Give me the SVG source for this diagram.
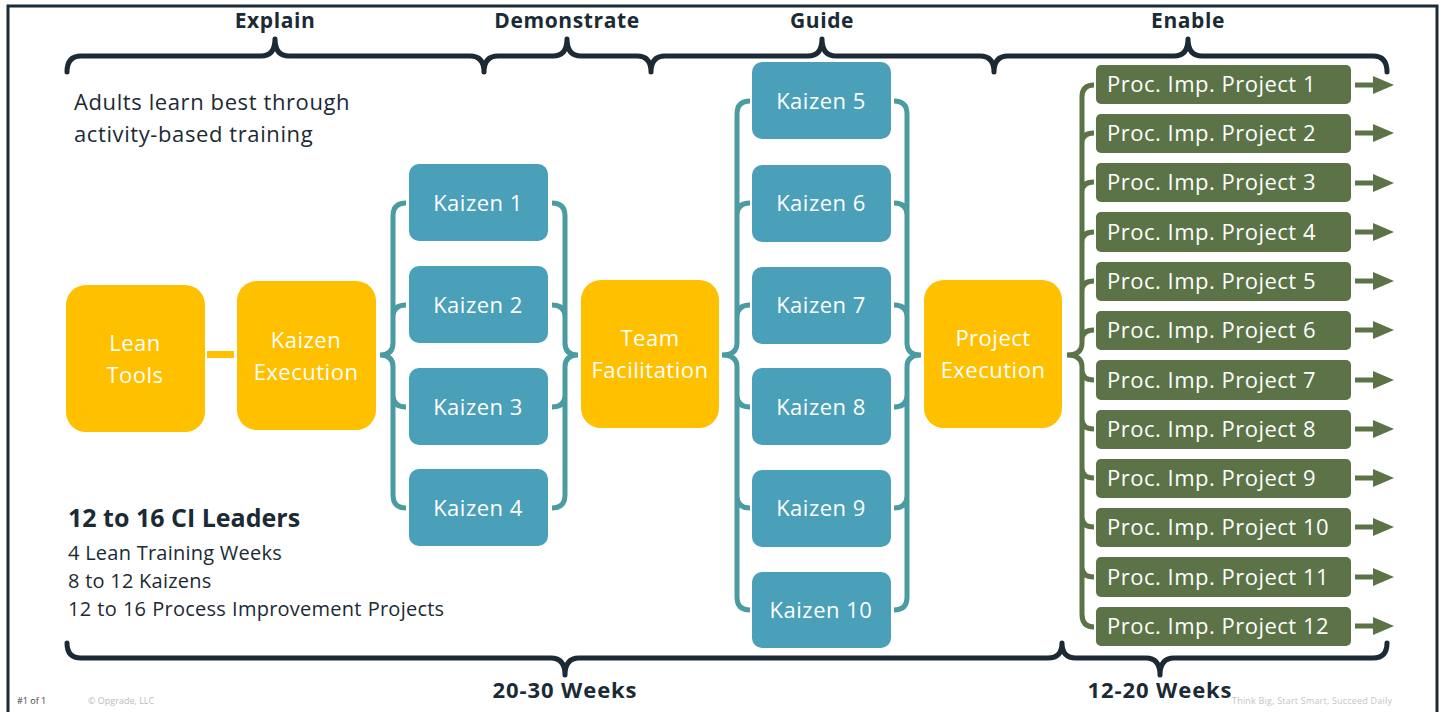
<svg xmlns="http://www.w3.org/2000/svg" width="1443" height="712" viewBox="0 0 1443 712">
<style>
  .frame{fill:none;stroke:#1d2b36;stroke-width:3}
  .brace{fill:none;stroke:#1b2a35;stroke-width:5;stroke-linecap:round;stroke-linejoin:round}
  .tbrace{fill:none;stroke:#4b9ba2;stroke-width:5;stroke-linecap:butt}
  .gbrace{fill:none;stroke:#5b7347;stroke-width:5;stroke-linecap:butt}
  .arrow{fill:none;stroke:#5b7347;stroke-width:5}
  .yel{fill:#ffc000}
  .teal{fill:#4a9fb9}
  .grn{fill:#5b7347}
  .lbl{font-family:"Open Sans","Liberation Sans",sans-serif;font-size:22px;letter-spacing:0.5px;fill:#ffffff;text-anchor:middle}
  .plbl{font-family:"Open Sans","Liberation Sans",sans-serif;font-size:22px;letter-spacing:0.5px;fill:#ffffff}
  .head{font-family:"Open Sans","Liberation Sans",sans-serif;font-size:21px;letter-spacing:0.6px;font-weight:bold;fill:#1b2a35;text-anchor:middle}
  .bhead{font-family:"Open Sans","Liberation Sans",sans-serif;font-size:22px;letter-spacing:0.9px;font-weight:bold;fill:#1b2a35;text-anchor:middle}
  .body{font-family:"Open Sans","Liberation Sans",sans-serif;fill:#1b2a35}
  .foot{font-family:"Open Sans","Liberation Sans",sans-serif;font-size:9px}
</style>
<defs>
  <marker id="ah" markerUnits="userSpaceOnUse" markerWidth="21" markerHeight="18" refX="0" refY="9" orient="auto">
    <path d="M0,0 L21,9 L0,18 z" fill="#5b7347"/>
  </marker>
</defs>
<rect width="1443" height="712" fill="#ffffff"/>
<path class="frame" d="M8,712 L8,6 L1437,6 L1437,712"/>

<g id="connectors">
  <path class="brace" d="M67,72 Q67,56 81,56 L261,56 Q275,56 275,39 Q275,56 289,56 L470,56 Q484,56 484,72 Q484,56 498,56 L553,56 Q567,56 567,39 Q567,56 581,56 L637,56 Q651,56 651,72 Q651,56 665,56 L808,56 Q822,56 822,39 Q822,56 836,56 L980,56 Q994,56 994,72 Q994,56 1008,56 L1174,56 Q1188,56 1188,39 Q1188,56 1202,56 L1373,56 Q1387,56 1387,72"/>
  <path class="brace" d="M67,643 Q67,658 81,658 L551,658 Q565,658 565,675 Q565,658 579,658 L1048,658 Q1062,658 1062,643 Q1062,658 1076,658 L1146,658 Q1160,658 1160,675 Q1160,658 1174,658 L1373,658 Q1387,658 1387,643"/>
  <rect class="yel" x="207" y="351" width="27" height="7"/>
  <path class="tbrace" d="M406,203 Q393,203 393,216 L393,343 Q393,355 380,355 Q393,355 393,367 L393,495 Q393,508 406,508 M393,317 Q393,305 406,305 M393,395 Q393,407 406,407"/>
  <path class="tbrace" d="M552,203 Q565,203 565,216 L565,343 Q565,355 578,355 Q565,355 565,367 L565,495 Q565,508 552,508 M565,317 Q565,305 552,305 M565,395 Q565,407 552,407"/>
  <path class="tbrace" d="M750,101 Q737,101 737,114 L737,343 Q737,355 722,355 Q737,355 737,367 L737,597 Q737,610 750,610 M737,215 Q737,203 750,203 M737,317 Q737,305 750,305 M737,395 Q737,407 750,407 M737,496 Q737,508 750,508"/>
  <path class="tbrace" d="M894,101 Q907,101 907,114 L907,343 Q907,355 921,355 Q907,355 907,367 L907,597 Q907,610 894,610 M907,215 Q907,203 894,203 M907,317 Q907,305 894,305 M907,395 Q907,407 894,407 M907,496 Q907,508 894,508"/>
  <path class="gbrace" d="M1094,85 Q1082,85 1082,97 L1082,343 Q1082,355 1067,355 Q1082,355 1082,367 L1082,614 Q1082,627 1094,627 M1082,143 Q1082,133 1094,133 M1082,192 Q1082,182 1094,182 M1082,242 Q1082,232 1094,232 M1082,291 Q1082,281 1094,281 M1082,340 Q1082,330 1094,330 M1082,370 Q1082,380 1094,380 M1082,419 Q1082,429 1094,429 M1082,468 Q1082,478 1094,478 M1082,517 Q1082,527 1094,527 M1082,567 Q1082,577 1094,577"/>
  <path class="arrow" marker-end="url(#ah)" d="M1355,85 L1373,85"/>
  <path class="arrow" marker-end="url(#ah)" d="M1355,133 L1373,133"/>
  <path class="arrow" marker-end="url(#ah)" d="M1355,183 L1373,183"/>
  <path class="arrow" marker-end="url(#ah)" d="M1355,232 L1373,232"/>
  <path class="arrow" marker-end="url(#ah)" d="M1355,281 L1373,281"/>
  <path class="arrow" marker-end="url(#ah)" d="M1355,330 L1373,330"/>
  <path class="arrow" marker-end="url(#ah)" d="M1355,380 L1373,380"/>
  <path class="arrow" marker-end="url(#ah)" d="M1355,429 L1373,429"/>
  <path class="arrow" marker-end="url(#ah)" d="M1355,478 L1373,478"/>
  <path class="arrow" marker-end="url(#ah)" d="M1355,527 L1373,527"/>
  <path class="arrow" marker-end="url(#ah)" d="M1355,577 L1373,577"/>
  <path class="arrow" marker-end="url(#ah)" d="M1355,626 L1373,626"/>
</g>

<g id="labels">
  <text class="head" x="275" y="28">Explain</text>
  <text class="head" x="567" y="28">Demonstrate</text>
  <text class="head" x="822" y="28">Guide</text>
  <text class="head" x="1188" y="28">Enable</text>
  <text class="bhead" x="565" y="698">20-30 Weeks</text>
  <text class="bhead" x="1160" y="698">12-20 Weeks</text>
  <text class="body" x="74" y="110" font-size="22" letter-spacing="0.6">Adults learn best through</text>
  <text class="body" x="74" y="142" font-size="22" letter-spacing="0.6">activity-based training</text>
  <text class="body" x="68" y="527" font-size="25" font-weight="bold">12 to 16 CI Leaders</text>
  <text class="body" x="68" y="560" font-size="20" letter-spacing="0.25">4 Lean Training Weeks</text>
  <text class="body" x="68" y="588" font-size="20" letter-spacing="0.25">8 to 12 Kaizens</text>
  <text class="body" x="68" y="616" font-size="20" letter-spacing="0.25" word-spacing="0.5">12 to 16 Process Improvement Projects</text>
  <text class="foot" x="17" y="704" fill="#444444">#1 of 1</text>
  <text class="foot" x="88" y="704" fill="#bbbbbb">© Opgrade, LLC</text>
  <text class="foot" x="1232" y="704" fill="#c4c4c4" font-size="9.5" letter-spacing="0.2">Think Big, Start Smart, Succeed Daily</text>
</g>

<g id="lean-tools"><rect class="yel" x="66" y="285" width="139" height="147" rx="20"/><text class="lbl" x="135" y="351">Lean</text><text class="lbl" x="135" y="383">Tools</text></g>
<g id="kaizen-execution"><rect class="yel" x="237" y="281" width="139" height="149" rx="20"/><text class="lbl" x="306" y="348">Kaizen</text><text class="lbl" x="306" y="380">Execution</text></g>
<g id="kaizen-1"><rect class="teal" x="409" y="164" width="139" height="77" rx="10"/><text class="lbl" x="478" y="211">Kaizen 1</text></g>
<g id="kaizen-2"><rect class="teal" x="409" y="266" width="139" height="77" rx="10"/><text class="lbl" x="478" y="313">Kaizen 2</text></g>
<g id="kaizen-3"><rect class="teal" x="409" y="368" width="139" height="77" rx="10"/><text class="lbl" x="478" y="415">Kaizen 3</text></g>
<g id="kaizen-4"><rect class="teal" x="409" y="469" width="139" height="77" rx="10"/><text class="lbl" x="478" y="516">Kaizen 4</text></g>
<g id="team-facilitation"><rect class="yel" x="581" y="280" width="138" height="148" rx="20"/><text class="lbl" x="650" y="346">Team</text><text class="lbl" x="650" y="378">Facilitation</text></g>
<g id="kaizen-5"><rect class="teal" x="752" y="62" width="139" height="77" rx="10"/><text class="lbl" x="821" y="109">Kaizen 5</text></g>
<g id="kaizen-6"><rect class="teal" x="752" y="165" width="139" height="77" rx="10"/><text class="lbl" x="821" y="211">Kaizen 6</text></g>
<g id="kaizen-7"><rect class="teal" x="752" y="267" width="139" height="77" rx="10"/><text class="lbl" x="821" y="313">Kaizen 7</text></g>
<g id="kaizen-8"><rect class="teal" x="752" y="368" width="139" height="77" rx="10"/><text class="lbl" x="821" y="415">Kaizen 8</text></g>
<g id="kaizen-9"><rect class="teal" x="752" y="470" width="139" height="77" rx="10"/><text class="lbl" x="821" y="516">Kaizen 9</text></g>
<g id="kaizen-10"><rect class="teal" x="752" y="572" width="139" height="76" rx="10"/><text class="lbl" x="821" y="618">Kaizen 10</text></g>
<g id="project-execution"><rect class="yel" x="924" y="280" width="138" height="148" rx="20"/><text class="lbl" x="993" y="346">Project</text><text class="lbl" x="993" y="378">Execution</text></g>
<g id="project-1"><rect class="grn" x="1096" y="65" width="255" height="39" rx="5"/><text class="plbl" x="1107" y="92">Proc. Imp. Project 1</text></g>
<g id="project-2"><rect class="grn" x="1096" y="114" width="255" height="39" rx="5"/><text class="plbl" x="1107" y="141">Proc. Imp. Project 2</text></g>
<g id="project-3"><rect class="grn" x="1096" y="163" width="255" height="39" rx="5"/><text class="plbl" x="1107" y="190">Proc. Imp. Project 3</text></g>
<g id="project-4"><rect class="grn" x="1096" y="212" width="255" height="40" rx="5"/><text class="plbl" x="1107" y="240">Proc. Imp. Project 4</text></g>
<g id="project-5"><rect class="grn" x="1096" y="262" width="255" height="39" rx="5"/><text class="plbl" x="1107" y="289">Proc. Imp. Project 5</text></g>
<g id="project-6"><rect class="grn" x="1096" y="311" width="255" height="39" rx="5"/><text class="plbl" x="1107" y="338">Proc. Imp. Project 6</text></g>
<g id="project-7"><rect class="grn" x="1096" y="360" width="255" height="40" rx="5"/><text class="plbl" x="1107" y="388">Proc. Imp. Project 7</text></g>
<g id="project-8"><rect class="grn" x="1096" y="410" width="255" height="39" rx="5"/><text class="plbl" x="1107" y="437">Proc. Imp. Project 8</text></g>
<g id="project-9"><rect class="grn" x="1096" y="459" width="255" height="39" rx="5"/><text class="plbl" x="1107" y="486">Proc. Imp. Project 9</text></g>
<g id="project-10"><rect class="grn" x="1096" y="508" width="255" height="39" rx="5"/><text class="plbl" x="1107" y="535">Proc. Imp. Project 10</text></g>
<g id="project-11"><rect class="grn" x="1096" y="557" width="255" height="40" rx="5"/><text class="plbl" x="1107" y="585">Proc. Imp. Project 11</text></g>
<g id="project-12"><rect class="grn" x="1096" y="607" width="255" height="39" rx="5"/><text class="plbl" x="1107" y="634">Proc. Imp. Project 12</text></g>
</svg>
